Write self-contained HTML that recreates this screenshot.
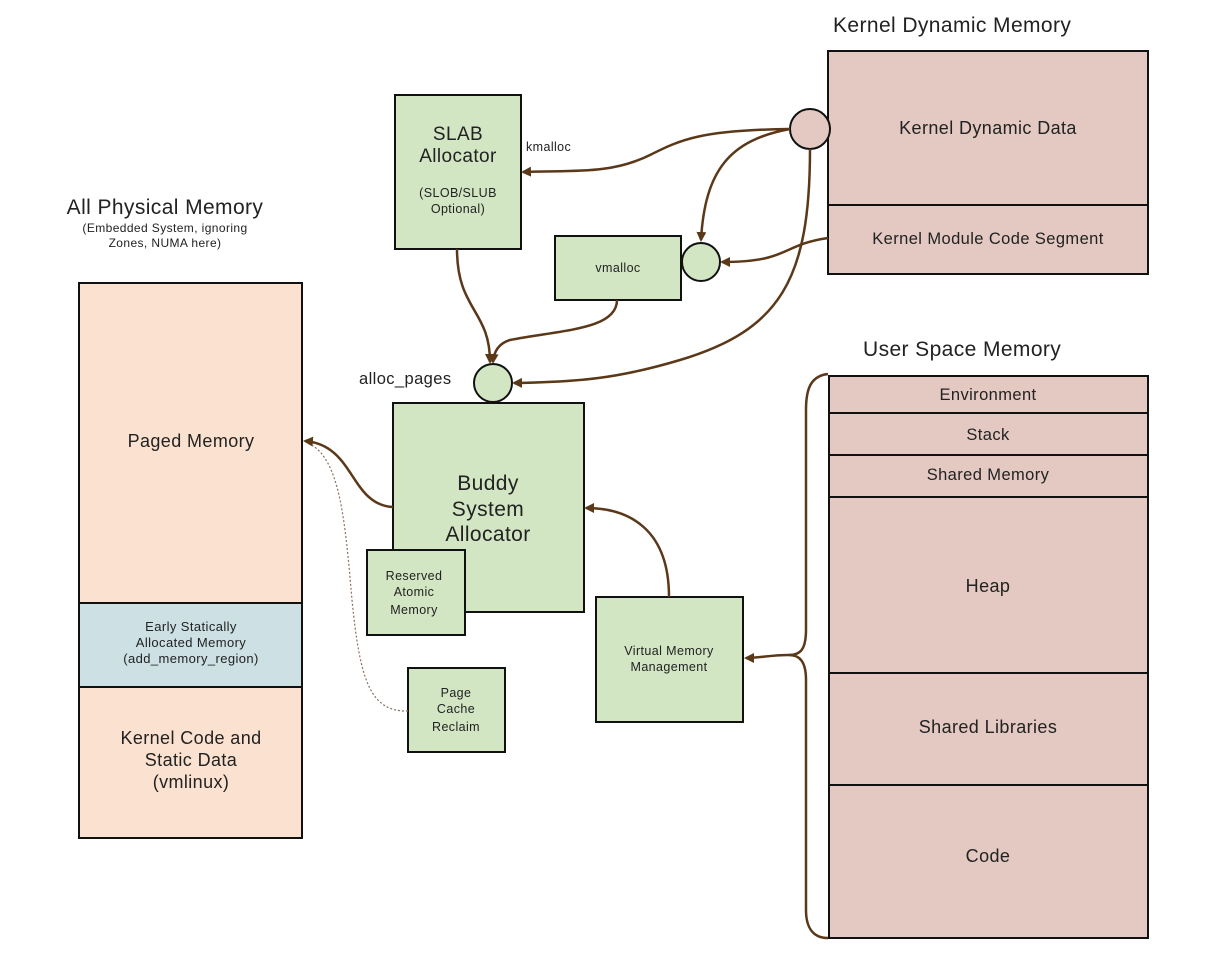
<!DOCTYPE html>
<html><head><meta charset="utf-8"><style>
body{margin:0;background:#fff}
svg{display:block}
text{font-family:"Liberation Sans",sans-serif;fill:#222;letter-spacing:0.4px}
</style></head><body>
<svg width="1208" height="968" viewBox="0 0 1208 968" xmlns="http://www.w3.org/2000/svg">
<defs>
<marker id="a" markerWidth="10" markerHeight="10" refX="8" refY="5" orient="auto" markerUnits="userSpaceOnUse">
<path d="M0,0 L10,5 L0,10 z" fill="#5a3818"/></marker>
</defs>
<g stroke="#111" stroke-width="2">
<rect x="79" y="283" width="223" height="320" fill="#fbe2d0"/>
<rect x="79" y="603" width="223" height="84" fill="#cde0e4"/>
<rect x="79" y="687" width="223" height="151" fill="#fbe2d0"/>
<rect x="828" y="51" width="320" height="154" fill="#e3c9c1"/>
<rect x="828" y="205" width="320" height="69" fill="#e3c9c1"/>
<rect x="829" y="376" width="319" height="37" fill="#e3c9c1"/>
<rect x="829" y="413" width="319" height="42" fill="#e3c9c1"/>
<rect x="829" y="455" width="319" height="42" fill="#e3c9c1"/>
<rect x="829" y="497" width="319" height="176" fill="#e3c9c1"/>
<rect x="829" y="673" width="319" height="112" fill="#e3c9c1"/>
<rect x="829" y="785" width="319" height="153" fill="#e3c9c1"/>
<rect x="395" y="95" width="126" height="154" fill="#d3e6c4"/>
<rect x="555" y="236" width="126" height="64" fill="#d3e6c4"/>
<rect x="393" y="403" width="191" height="209" fill="#d3e6c4"/>
<rect x="367" y="550" width="98" height="85" fill="#d3e6c4"/>
<rect x="408" y="668" width="97" height="84" fill="#d3e6c4"/>
<rect x="596" y="597" width="147" height="125" fill="#d3e6c4"/>
<circle cx="810" cy="129" r="20" fill="#e3c9c1"/>
<circle cx="701" cy="262" r="19" fill="#d3e6c4"/>
<circle cx="493" cy="383" r="19" fill="#d3e6c4"/>
</g>
<g fill="none" stroke="#5a3818" stroke-width="2.5">
<path d="M790,129 C700,130 680,140 650,155 C610,175 570,170 523,172" marker-end="url(#a)"/>
<path d="M790,129 C730,140 705,170 701,240" marker-end="url(#a)"/>
<path d="M828,238 C780,245 790,262 722,262" marker-end="url(#a)"/>
<path d="M810,149 C810,280 780,330 680,360 C620,378 580,382 514,383" marker-end="url(#a)"/>
<path d="M457,249 C457,310 490,310 490,362" marker-end="url(#a)"/>
<path d="M617,300 C617,330 560,330 510,340 C500,343 494,350 493,362" marker-end="url(#a)"/>
<path d="M393,507 C350,505 355,445 305,441" marker-end="url(#a)"/>
<path d="M669,597 C669,530 630,508 586,508" marker-end="url(#a)"/>
<path d="M828,374 C810,376 806,390 806,410 L806,630 C806,650 800,655 789,655 C770,655 760,658 746,658" marker-end="url(#a)"/>
<path d="M789,655 C800,655 806,662 806,680 L806,910 C806,930 815,938 828,938"/>
</g>
<path d="M408,711 C370,712 360,680 352,600 C345,520 340,460 310,444" fill="none" stroke="#8a7060" stroke-width="1.2" stroke-dasharray="2,2"/>
<text x="833" y="32" font-size="21">Kernel Dynamic Memory</text>
<text x="988" y="134" font-size="18" text-anchor="middle">Kernel Dynamic Data</text>
<text x="988" y="244" font-size="16.5" text-anchor="middle">Kernel Module Code Segment</text>
<text x="863" y="356" font-size="21">User Space Memory</text>
<text x="988" y="400" font-size="16.5" text-anchor="middle">Environment</text>
<text x="988" y="440" font-size="16.5" text-anchor="middle">Stack</text>
<text x="988" y="480" font-size="16.5" text-anchor="middle">Shared Memory</text>
<text x="988" y="592" font-size="18" text-anchor="middle">Heap</text>
<text x="988" y="733" font-size="18" text-anchor="middle">Shared Libraries</text>
<text x="988" y="862" font-size="18" text-anchor="middle">Code</text>
<text x="165" y="214" font-size="21" text-anchor="middle">All Physical Memory</text>
<text x="165" y="232" font-size="12" text-anchor="middle">(Embedded System, ignoring</text>
<text x="165" y="247" font-size="12" text-anchor="middle">Zones, NUMA here)</text>
<text x="191" y="447" font-size="18" text-anchor="middle">Paged Memory</text>
<text x="191" y="631" font-size="13" text-anchor="middle">Early Statically</text>
<text x="191" y="647" font-size="13" text-anchor="middle">Allocated Memory</text>
<text x="191" y="663" font-size="13" text-anchor="middle">(add_memory_region)</text>
<text x="191" y="744" font-size="18" text-anchor="middle">Kernel Code and</text>
<text x="191" y="766" font-size="18" text-anchor="middle">Static Data</text>
<text x="191" y="788" font-size="18" text-anchor="middle">(vmlinux)</text>
<text x="458" y="140" font-size="19" text-anchor="middle">SLAB</text>
<text x="458" y="162" font-size="19" text-anchor="middle">Allocator</text>
<text x="458" y="197" font-size="12.5" text-anchor="middle">(SLOB/SLUB</text>
<text x="458" y="213" font-size="12.5" text-anchor="middle">Optional)</text>
<text x="526" y="151" font-size="12.5">kmalloc</text>
<text x="618" y="272" font-size="12.5" text-anchor="middle">vmalloc</text>
<text x="359" y="384" font-size="16.5">alloc_pages</text>
<text x="488" y="490" font-size="21" text-anchor="middle">Buddy</text>
<text x="488" y="516" font-size="21" text-anchor="middle">System</text>
<text x="488" y="541" font-size="21" text-anchor="middle">Allocator</text>
<text x="414" y="580" font-size="12.5" text-anchor="middle">Reserved</text>
<text x="414" y="596" font-size="12.5" text-anchor="middle">Atomic</text>
<text x="414" y="614" font-size="12.5" text-anchor="middle">Memory</text>
<text x="456" y="697" font-size="12.5" text-anchor="middle">Page</text>
<text x="456" y="713" font-size="12.5" text-anchor="middle">Cache</text>
<text x="456" y="731" font-size="12.5" text-anchor="middle">Reclaim</text>
<text x="669" y="655" font-size="12.5" text-anchor="middle">Virtual Memory</text>
<text x="669" y="671" font-size="12.5" text-anchor="middle">Management</text>
</svg>
</body></html>
